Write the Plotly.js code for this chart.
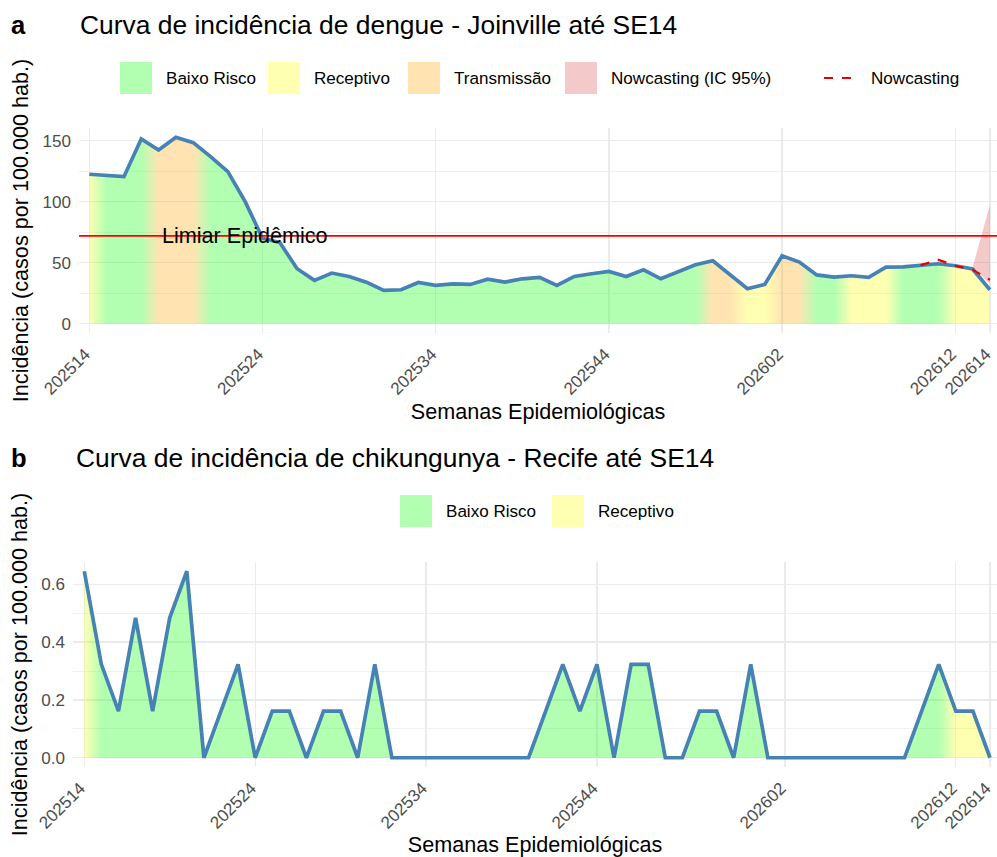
<!DOCTYPE html>
<html><head><meta charset="utf-8">
<script src="https://cdn.plot.ly/plotly-3.0.1.min.js"></script>
<style>html,body{margin:0;padding:0;background:#fff}#chart{width:997px;height:857px}</style>
</head><body><div id="chart"></div>
<script>
// ---------- DATA ----------
const weeksDengue = ['202514','202515','202516','202517','202518','202519','202520','202521','202522','202523',
  '202524','202525','202526','202527','202528','202529','202530','202531','202532','202533',
  '202534','202535','202536','202537','202538','202539','202540','202541','202542','202543',
  '202544','202545','202546','202547','202548','202549','202550','202551','202552',
  '202601','202602','202603','202604','202605','202606','202607','202608','202609','202610',
  '202611','202612','202613','202614'];
const incidenceDengue = [122.5,121.5,120.5,151.4,142.4,152.8,148.4,137.0,124.6,100.0,
  70.0,66.5,45.0,35.5,41.5,38.7,34.0,27.3,27.8,33.8,
  31.4,32.7,32.2,36.5,34.1,36.8,37.9,31.4,38.7,40.9,
  42.8,38.7,44.2,36.8,42.8,48.3,51.6,40.0,28.6,
  32.2,55.6,50.5,40.0,38.2,39.3,37.9,46.4,46.6,48.0,
  49.1,47.5,44.8,27.8];
const riskDengue = ['Receptivo','Baixo Risco','Baixo Risco','Baixo Risco','Transmissão','Transmissão','Transmissão','Baixo Risco','Baixo Risco','Baixo Risco',
  'Baixo Risco','Baixo Risco','Baixo Risco','Baixo Risco','Baixo Risco','Baixo Risco','Baixo Risco','Baixo Risco','Baixo Risco','Baixo Risco',
  'Baixo Risco','Baixo Risco','Baixo Risco','Baixo Risco','Baixo Risco','Baixo Risco','Baixo Risco','Baixo Risco','Baixo Risco','Baixo Risco',
  'Baixo Risco','Baixo Risco','Baixo Risco','Baixo Risco','Baixo Risco','Baixo Risco','Transmissão','Transmissão','Receptivo',
  'Receptivo','Transmissão','Transmissão','Baixo Risco','Baixo Risco','Receptivo','Receptivo','Receptivo','Baixo Risco','Baixo Risco',
  'Baixo Risco','Receptivo','Receptivo','Receptivo'];
const nowcastWeeks = ['202610','202611','202612','202613','202614'];
const nowcastValues = [48.0,52.4,47.5,44.2,36.0];
const nowcastBandWeeks = ['202613','202614'];
const nowcastLower = [46.0,33.0];
const nowcastUpper = [46.0,97.4];
const epidemicThreshold = 72;

const weeksChik = ['202514','202515','202516','202517','202518','202519','202520','202521','202522','202523',
  '202524','202525','202526','202527','202528','202529','202530','202531','202532','202533',
  '202534','202535','202536','202537','202538','202539','202540','202541','202542','202543',
  '202544','202545','202546','202547','202548','202549','202550','202551','202552','202553',
  '202601','202602','202603','202604','202605','202606','202607','202608','202609','202610',
  '202611','202612','202613','202614'];
const incidenceChik = [0.645,0.323,0.161,0.484,0.161,0.484,0.645,0,0.161,0.323,
  0,0.161,0.161,0,0.161,0.161,0,0.323,0,0,
  0,0,0,0,0,0,0,0.161,0.323,0.161,
  0.323,0,0.323,0.323,0,0,0.161,0.161,0,0.323,
  0,0,0,0,0,0,0,0,0,0.161,
  0.323,0.161,0.161,0];
const riskChik = weeksChik.map((w,i)=> (i===0 || i>=51) ? 'Receptivo' : 'Baixo Risco');

const tickWeeks = ['202514','202524','202534','202544','202602','202612','202614'];
const riskLegendTop = ['Baixo Risco','Receptivo','Transmissão','Nowcasting (IC 95%)'];
const riskLegendBottom = ['Baixo Risco','Receptivo'];

// ---------- STYLE ----------
const FONT = 'Liberation Sans, Arial, Helvetica, sans-serif';
const riskColors = {
  'Baixo Risco':'rgba(0,255,0,0.3)',
  'Receptivo':'rgba(255,255,0,0.3)',
  'Transmissão':'rgba(255,165,0,0.3)',
  'Nowcasting (IC 95%)':'rgba(210,40,40,0.25)'
};
const LINE = '#4682b4';
const W = 997, H = 857, ML = 73;
const px = v => (v - ML) / (W - ML);
const py = v => (H - v) / H;

function gradientFrom(risks){
  const n = risks.length;
  return {type:'horizontal', start:0, stop:n-1,
    colorscale: risks.map((r,i)=>[i/(n-1), riskColors[r]])};
}
const xD = weeksDengue.map((w,i)=>i);
const xC = weeksChik.map((w,i)=>i);

const traces = [
  {x:xD, y:incidenceDengue, type:'scatter', mode:'lines', line:{width:0, color:'rgba(0,0,0,0)'},
   fill:'tozeroy', fillgradient:gradientFrom(riskDengue), hoverinfo:'skip', xaxis:'x', yaxis:'y'},
  {x:nowcastBandWeeks.map(w=>weeksDengue.indexOf(w)), y:nowcastLower, type:'scatter', mode:'lines',
   line:{width:0}, hoverinfo:'skip', xaxis:'x', yaxis:'y'},
  {x:nowcastBandWeeks.map(w=>weeksDengue.indexOf(w)), y:nowcastUpper, type:'scatter', mode:'lines',
   line:{width:0}, fill:'tonexty', fillcolor:riskColors['Nowcasting (IC 95%)'], hoverinfo:'skip', xaxis:'x', yaxis:'y'},
  {x:xD, y:incidenceDengue, type:'scatter', mode:'lines', line:{width:3.7, color:LINE}, xaxis:'x', yaxis:'y'},
  {x:nowcastWeeks.map(w=>weeksDengue.indexOf(w)), y:nowcastValues, type:'scatter', mode:'lines',
   line:{width:2.2, color:'#e60000', dash:'dash'}, xaxis:'x', yaxis:'y'},
  {x:xC, y:incidenceChik, type:'scatter', mode:'lines', line:{width:0, color:'rgba(0,0,0,0)'},
   fill:'tozeroy', fillgradient:gradientFrom(riskChik), hoverinfo:'skip', xaxis:'x2', yaxis:'y2'},
  {x:xC, y:incidenceChik, type:'scatter', mode:'lines', line:{width:3.7, color:LINE}, xaxis:'x2', yaxis:'y2'}
];

const tickFont = {size:17.07, color:'#4d4d4d', family:FONT};
const titleFont = {size:21.6, color:'#000', family:FONT};
function xAxis(weeks, domain, range, anchor){
  return {domain, range, anchor, tickmode:'array',
    tickvals: tickWeeks.map(w=>weeks.indexOf(w)), ticktext: tickWeeks,
    tickangle:-45, tickfont:tickFont, ticks:'', showline:false, zeroline:false,
    showgrid:true, gridcolor:'#ebebeb', gridwidth:1.3, ticklabelstandoff:7, ticklabelshift:-4,
    ticklabeloverflow:'allow',
    title:{text:'Semanas Epidemiológicas', font:titleFont, standoff:6}};
}
function yAxis(domain, range, dtick, minorDtick, fmt, anchor){
  return {domain, range, anchor, dtick, tick0:0, tickformat:fmt, tickfont:tickFont, ticks:'',
    showline:false, zeroline:false, showgrid:true, gridcolor:'#ebebeb', gridwidth:1.3,
    ticklabelstandoff:7,
    minor:{dtick:minorDtick, tick0:0, showgrid:true, gridcolor:'#ebebeb', gridwidth:0.7},
    title:{text:'Incidência (casos por 100.000 hab.)', font:titleFont, standoff:7}};
}

const shapes = [
  {type:'line', xref:'x domain', yref:'y', x0:0, x1:1, y0:epidemicThreshold, y1:epidemicThreshold,
   line:{color:'#ff0000', width:1.6}}
];
const annotations = [
  {text:'<b>a</b>', xref:'paper', yref:'paper', x:px(9), y:py(25), xanchor:'left', yanchor:'middle', showarrow:false, font:{size:25.6, family:FONT, color:'#000'}},
  {text:'<b>b</b>', xref:'paper', yref:'paper', x:px(9), y:py(458), xanchor:'left', yanchor:'middle', showarrow:false, font:{size:25.6, family:FONT, color:'#000'}},
  {text:'Curva de incidência de chikungunya - Recife até SE14', xref:'paper', yref:'paper', x:px(74), y:py(458), xanchor:'left', yanchor:'middle', showarrow:false, font:{size:26.4, family:FONT, color:'#000'}},
  {text:'Limiar Epidêmico', xref:'x', yref:'y', x:9, y:epidemicThreshold, xanchor:'center', yanchor:'middle', showarrow:false, font:{size:21.6, family:FONT, color:'#000'}}
];
// legends (drawn manually to match the square keys)
const topKeyX = [120, 268, 408, 565];
riskLegendTop.forEach((lab,i)=>{
  shapes.push({type:'rect', xref:'paper', yref:'paper', x0:px(topKeyX[i]), x1:px(topKeyX[i]+32), y0:py(94), y1:py(62),
    fillcolor:riskColors[lab], line:{width:0}, layer:'above'});
  annotations.push({text:lab, xref:'paper', yref:'paper', x:px(topKeyX[i]+44), y:py(78), xanchor:'left', yanchor:'middle',
    showarrow:false, font:{size:17.07, family:FONT, color:'#000'}});
});
shapes.push({type:'line', xref:'paper', yref:'paper', x0:px(824), x1:px(856), y0:py(78), y1:py(78),
  line:{color:'#e60000', width:2.2, dash:'dash'}});
annotations.push({text:'Nowcasting', xref:'paper', yref:'paper', x:px(869), y:py(78), xanchor:'left', yanchor:'middle',
  showarrow:false, font:{size:17.07, family:FONT, color:'#000'}});
const botKeyX = [400, 552];
riskLegendBottom.forEach((lab,i)=>{
  shapes.push({type:'rect', xref:'paper', yref:'paper', x0:px(botKeyX[i]), x1:px(botKeyX[i]+32), y0:py(527), y1:py(495),
    fillcolor:riskColors[lab], line:{width:0}, layer:'above'});
  annotations.push({text:lab, xref:'paper', yref:'paper', x:px(botKeyX[i]+44), y:py(511), xanchor:'left', yanchor:'middle',
    showarrow:false, font:{size:17.07, family:FONT, color:'#000'}});
});

const layout = {
  width:W, height:H, margin:{l:ML, r:0, t:0, b:0},
  paper_bgcolor:'#fff', plot_bgcolor:'#fff', showlegend:false,
  font:{family:FONT, color:'#000'},
  title:{text:'Curva de incidência de dengue - Joinville até SE14', xref:'container', yref:'container',
    x:80/W, xanchor:'left', y:1-25/H, yanchor:'middle', font:{size:26.4, family:FONT, color:'#000'}},
  xaxis: xAxis(weeksDengue, [px(79),1], [-0.595,52.41], 'y'),
  yaxis: yAxis([py(333),py(128)], [-7.64,160.4], 50, 25, 'd', 'x'),
  xaxis2: xAxis(weeksChik, [0,1], [-0.66,53.41], 'y2'),
  yaxis2: yAxis([py(767),py(562)], [-0.032,0.677], 0.2, 0.1, '.1f', 'x2'),
  shapes, annotations
};
Plotly.newPlot('chart', traces, layout, {displayModeBar:false, staticPlot:true});
</script>
</body></html>
